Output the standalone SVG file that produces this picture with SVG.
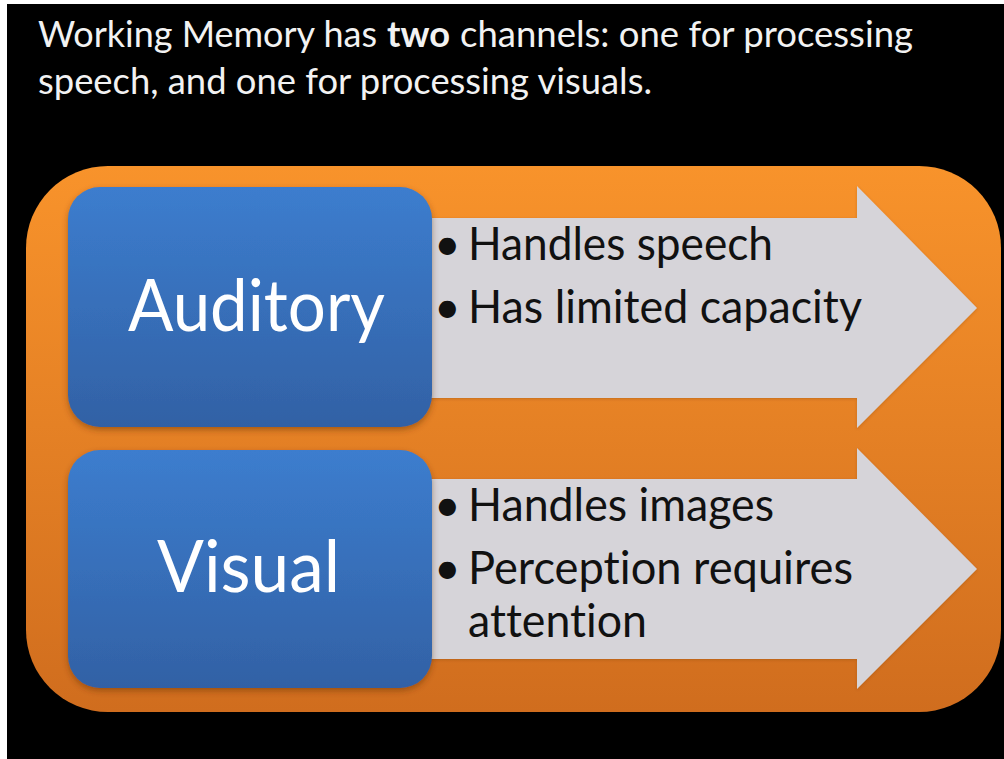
<svg xmlns="http://www.w3.org/2000/svg" width="1004" height="759" viewBox="0 0 1004 759">
  <defs>
    <linearGradient id="orangeGrad" x1="0" y1="0" x2="0" y2="1">
      <stop offset="0" stop-color="#F8932B"/>
      <stop offset="1" stop-color="#D06D1E"/>
    </linearGradient>
    <linearGradient id="blueGrad" x1="0" y1="0" x2="0" y2="1">
      <stop offset="0" stop-color="#3C7DCE"/>
      <stop offset="1" stop-color="#3261A5"/>
    </linearGradient>
    <filter id="boxShadow" x="-10%" y="-10%" width="120%" height="125%">
      <feDropShadow dx="0" dy="3" stdDeviation="3" flood-color="#5a2a00" flood-opacity="0.45"/>
    </filter>
    <filter id="arrowShadow" x="-5%" y="-10%" width="110%" height="120%">
      <feDropShadow dx="0" dy="1" stdDeviation="1.5" flood-color="#5a2a00" flood-opacity="0.25"/>
    </filter>
  </defs>
  <style>
    text { font-variant-ligatures: none; font-feature-settings: "liga" 0, "clig" 0; }
    .title { font-family: Lato, "Open Sans", "Liberation Sans", sans-serif; font-size: 37px; fill: #F2F2F2; }
    .bold { font-weight: bold; }
    .channel { font-family: Lato, "Open Sans", "Liberation Sans", sans-serif; font-size: 72px; fill: #FFFFFF; }
    .bullet { font-family: Lato, "Open Sans", "Liberation Sans", sans-serif; font-size: 46px; fill: #111111; }
    .box { fill: url(#blueGrad); filter: url(#boxShadow); }
    .arrow { fill: #D6D4D9; filter: url(#arrowShadow); }
  </style>

  <!-- page background with thin light margin -->
  <rect x="0" y="0" width="1004" height="759" fill="#FFFFFF"/>
  <rect x="7" y="4" width="997" height="755" fill="#000000"/>

  <!-- heading -->
  <g id="heading">
    <text class="title" x="38" y="47" textLength="339" lengthAdjust="spacingAndGlyphs">Working Memory has</text>
    <text class="title bold" x="387" y="47" textLength="63" lengthAdjust="spacingAndGlyphs">two</text>
    <text class="title" x="460" y="47" textLength="453" lengthAdjust="spacingAndGlyphs">channels: one for processing</text>
    <text class="title" x="38" y="94" textLength="614" lengthAdjust="spacingAndGlyphs">speech, and one for processing visuals.</text>
  </g>

  <!-- orange panel -->
  <g id="panel">
    <rect x="26" y="166" width="975" height="546" rx="82" ry="82" fill="url(#orangeGrad)"/>
  </g>

  <!-- block arrows carrying the properties of each channel -->
  <g id="arrows">
    <polygon class="arrow" points="420,218 857,218 857,186 977,308 857,428 857,398 420,398"/>
    <polygon class="arrow" points="420,479 857,479 857,448 977,569 857,689 857,659 420,659"/>
  </g>

  <g id="auditory-notes">
    <text class="bullet" x="434" y="260">•</text>
    <text class="bullet" x="468" y="260" textLength="305" lengthAdjust="spacingAndGlyphs">Handles speech</text>
    <text class="bullet" x="434" y="323">•</text>
    <text class="bullet" x="468" y="323" textLength="394" lengthAdjust="spacingAndGlyphs">Has limited capacity</text>
  </g>

  <g id="visual-notes">
    <text class="bullet" x="434" y="521">•</text>
    <text class="bullet" x="468" y="521" textLength="306" lengthAdjust="spacingAndGlyphs">Handles images</text>
    <text class="bullet" x="434" y="584">•</text>
    <text class="bullet" x="468" y="584" textLength="385" lengthAdjust="spacingAndGlyphs">Perception requires</text>
    <text class="bullet" x="468" y="637" textLength="179" lengthAdjust="spacingAndGlyphs">attention</text>
  </g>

  <!-- channel boxes -->
  <g id="auditory">
    <rect class="box" x="68" y="187" width="364" height="240" rx="32" ry="32"/>
    <text class="channel" x="128" y="331" textLength="257" lengthAdjust="spacingAndGlyphs">Auditory</text>
  </g>

  <g id="visual">
    <rect class="box" x="68" y="450" width="364" height="238" rx="32" ry="32"/>
    <text class="channel" x="157" y="592" textLength="183" lengthAdjust="spacingAndGlyphs">Visual</text>
  </g>
</svg>
